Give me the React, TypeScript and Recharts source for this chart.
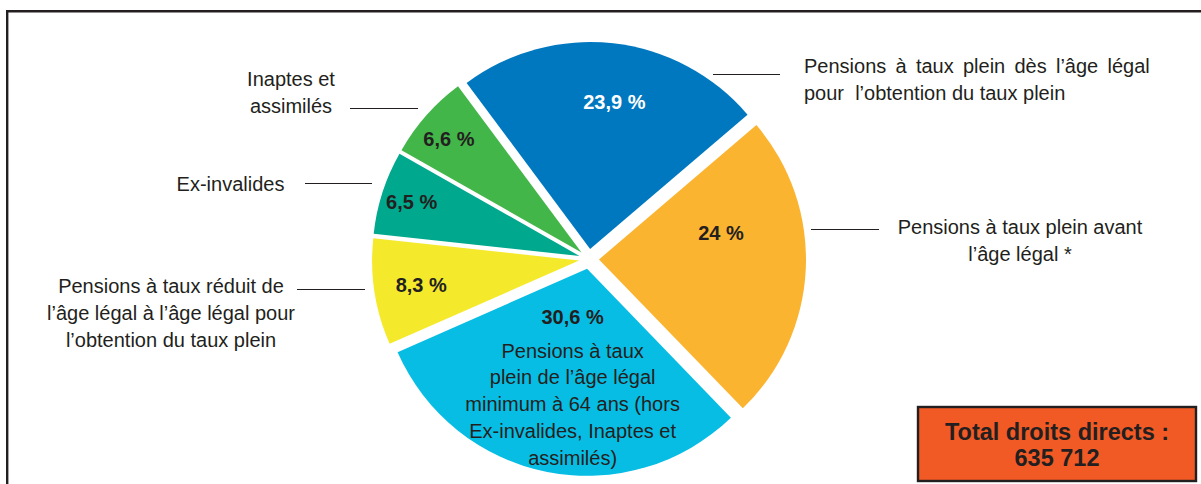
import { Pie, PieChart, Sector, Cell } from 'recharts'

// slices, clockwise from the upper-right gap
const CATEGORIES = [
  'Pensions à taux plein avant l’âge légal *',
  'Pensions à taux plein de l’âge légal minimum à 64 ans',
  'Pensions à taux réduit',
  'Ex-invalides',
  'Inaptes et assimilés',
  'Pensions à taux plein dès l’âge légal',
]
const SHARES = [24, 30.6, 8.3, 6.5, 6.6, 23.9]
const COLORS = ['#fbb430', '#07bde4', '#f5e92c', '#00a88d', '#43b649', '#0078bf']
const LABEL_FILLS = ['#231f20', '#231f20', '#231f20', '#231f20', '#231f20', '#ffffff']

const CYAN_NOTE = [
  'Pensions à taux',
  'plein de l’âge légal',
  'minimum à 64 ans (hors',
  'Ex-invalides, Inaptes et',
  'assimilés)',
]

const TOTAL_LINES = ['Total droits directs :', '635 712']

// outside captions: lines, anchor, x, first baseline
const CAPTIONS: { lines: string[]; anchor: 'start' | 'middle'; x: number; y: number; ws?: number }[] = [
  { lines: ['Pensions à taux plein dès l’âge légal', 'pour  l’obtention du taux plein'], anchor: 'start', x: 804, y: 72.5, ws: 3.7 },
  { lines: ['Pensions à taux plein avant', 'l’âge légal *'], anchor: 'middle', x: 1020, y: 234 },
  { lines: ['Pensions à taux réduit de', 'l’âge légal à l’âge légal pour', 'l’obtention du taux plein'], anchor: 'middle', x: 171, y: 293 },
  { lines: ['Inaptes et', 'assimilés'], anchor: 'middle', x: 291, y: 86 },
  { lines: ['Ex-invalides'], anchor: 'middle', x: 230.5, y: 191 },
]
const LEADERS = [
  [713, 780, 74],
  [811, 879, 229],
  [297, 365, 289],
  [350, 418, 108],
  [305, 372, 183],
]

// where each percent sits: radius fraction, angle tweak in degrees
const LABEL_SPOT = [
  [0.65, 14],
  [0.29, -4.7],
  [0.82, 0],
  [0.9, 0],
  [0.89, 1],
  [0.77, -2.7],
]

const W = 1201
const H = 484
const CX = 589
const CY = 259
const R = 207
const EXPLODE = 10
const RAD = Math.PI / 180
const FONT = '"Liberation Sans", Arial, Helvetica, sans-serif'
const INK = '#231f20'

const data = CATEGORIES.map((name, i) => ({ name, value: SHARES[i] }))

function pct(v: number): string {
  return `${String(v).replace('.', ',')} %`
}

function ExplodedSector(props: any) {
  const { cx, cy, midAngle } = props
  const dx = EXPLODE * Math.cos(-midAngle * RAD)
  const dy = EXPLODE * Math.sin(-midAngle * RAD)
  return <Sector {...props} cx={cx + dx} cy={cy + dy} stroke="none" />
}

function SliceLabel(props: any) {
  const { cx, cy, midAngle, outerRadius, index, value } = props
  const [frac, da] = LABEL_SPOT[index]
  const a = -(midAngle + da) * RAD
  const x = cx + outerRadius * frac * Math.cos(a)
  const y = cy + outerRadius * frac * Math.sin(a)
  return (
    <g>
      <text x={x} y={y} dy="0.35em" textAnchor="middle" fill={LABEL_FILLS[index]}
        style={{ fontFamily: FONT, fontSize: 20, fontWeight: 700 }}>
        {pct(value)}
      </text>
      {index === 1 &&
        CYAN_NOTE.map((l, k) => (
          <text key={k} x={x} y={y + 7 + 34 + k * 26.7} textAnchor="middle" fill={INK}
            style={{ fontFamily: FONT, fontSize: 20 }}>
            {l}
          </text>
        ))}
    </g>
  )
}

export default function App() {
  return (
    <div style={{ position: 'absolute', left: 0, top: 0, width: W, height: H, overflow: 'hidden', background: '#fff' }}>
      <div style={{ position: 'absolute', left: 0, top: 0 }}>
        <PieChart width={W} height={H} margin={{ top: 0, right: 0, bottom: 0, left: 0 }}>
          <Pie
            data={data}
            dataKey="value"
            nameKey="name"
            cx={CX}
            cy={CY}
            outerRadius={R}
            startAngle={40.5}
            endAngle={40.5 - 360}
            stroke="none"
            shape={ExplodedSector}
            activeShape={ExplodedSector}
            inactiveShape={ExplodedSector}
            label={SliceLabel}
            labelLine={false}
            isAnimationActive={false}
          >
            {data.map((d, i) => (
              <Cell key={d.name} fill={COLORS[i]} />
            ))}
          </Pie>
        </PieChart>
      </div>
      <svg width={W} height={H} style={{ position: 'absolute', left: 0, top: 0, pointerEvents: 'none' }}>
        <path d={`M7.2 ${H} V11.2 H${W}`} fill="none" stroke={INK} strokeWidth={2.4} />
        {LEADERS.map(([x1, x2, y], i) => (
          <line key={i} x1={x1} x2={x2} y1={y + 0.5} y2={y + 0.5} stroke={INK} strokeWidth={1.1} />
        ))}
        {CAPTIONS.map((c, i) =>
          c.lines.map((l, k) => (
            <text key={`${i}-${k}`} x={c.x} y={c.y + k * 27} textAnchor={c.anchor} fill={INK}
              style={{ fontFamily: FONT, fontSize: 20, wordSpacing: k === 0 && c.ws ? c.ws : 0, whiteSpace: 'pre' }}>
              {l}
            </text>
          )),
        )}
        <rect x={918} y={407} width={278} height={74} fill="#f15a24" stroke={INK} strokeWidth={2.4} />
        {TOTAL_LINES.map((l, k) => (
          <text key={l} x={1057} y={440 + k * 26} textAnchor="middle" fill={INK}
            style={{ fontFamily: FONT, fontSize: 23.5, fontWeight: 700 }}>
            {l}
          </text>
        ))}
      </svg>
    </div>
  )
}
